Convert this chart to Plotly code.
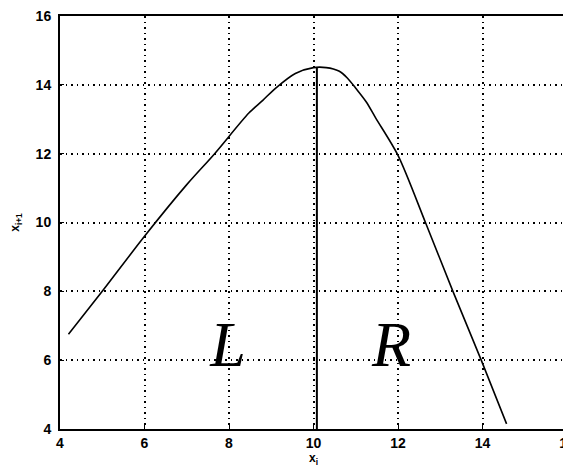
import plotly.graph_objects as go

# curve: x_i -> x_{i+1}
x_i = [4.2, 5.0, 6.0, 7.0, 7.66, 8.47, 8.8, 9.1, 9.57, 10.0, 10.3, 10.6,
       10.8, 11.0, 11.25, 11.47, 12.0, 12.65, 13.3, 13.97, 14.57]
x_next = [6.75, 8.0, 9.6, 11.1, 12.0, 13.18, 13.55, 13.9, 14.33, 14.5, 14.5,
          14.4, 14.2, 13.9, 13.5, 13.04, 11.95, 10.0, 8.0, 6.0, 4.15]

# the divider between the L and R branches
split_x = [10.08, 10.08]
split_y = [4, 14.5]

labels = ["L", "R"]
label_x = [7.98, 11.85]
label_y = [6.3, 6.3]

ticks = [4, 6, 8, 10, 12, 14, 16]

tick_font = dict(family="Liberation Sans", size=14, color="black", weight="bold")

fig = go.Figure()
fig.add_trace(go.Scatter(x=x_i, y=x_next, mode="lines",
                         line=dict(color="black", width=1.6, shape="spline", smoothing=0.8)))
fig.add_trace(go.Scatter(x=split_x, y=split_y, mode="lines",
                         line=dict(color="black", width=2)))
fig.add_trace(go.Scatter(x=label_x, y=label_y, mode="text", text=labels,
                         texttemplate="<i>%{text}</i>",
                         textfont=dict(family="Liberation Serif", size=64, color="black")))

axis = dict(range=[4, 16], tickvals=ticks, showgrid=True, gridcolor="black",
            griddash="1.5px,4px", gridwidth=1.5, showline=True, linecolor="black",
            linewidth=2, mirror=True, ticks="inside", ticklen=4,
            tickcolor="black", zeroline=False, automargin=False,
            ticklabeloverflow="allow", tickfont=tick_font)

fig.update_xaxes(**axis, ticklabelstandoff=0,
                 title=dict(text="x<sub>i</sub>", standoff=4,
                            font=dict(family="Liberation Sans", size=12, color="black", weight="bold")))
fig.update_yaxes(**axis, ticklabelstandoff=4,
                 title=dict(text="x<sub>i+1</sub>", standoff=14,
                            font=dict(family="Liberation Sans", size=12, color="black", weight="bold")))

# page body adds an 8px offset, so margins are trimmed to match the scan
fig.update_layout(width=571, height=474, showlegend=False,
                  plot_bgcolor="white", paper_bgcolor="white",
                  margin=dict(l=52, r=12, t=8, b=53))

fig.write_html("out.html")
